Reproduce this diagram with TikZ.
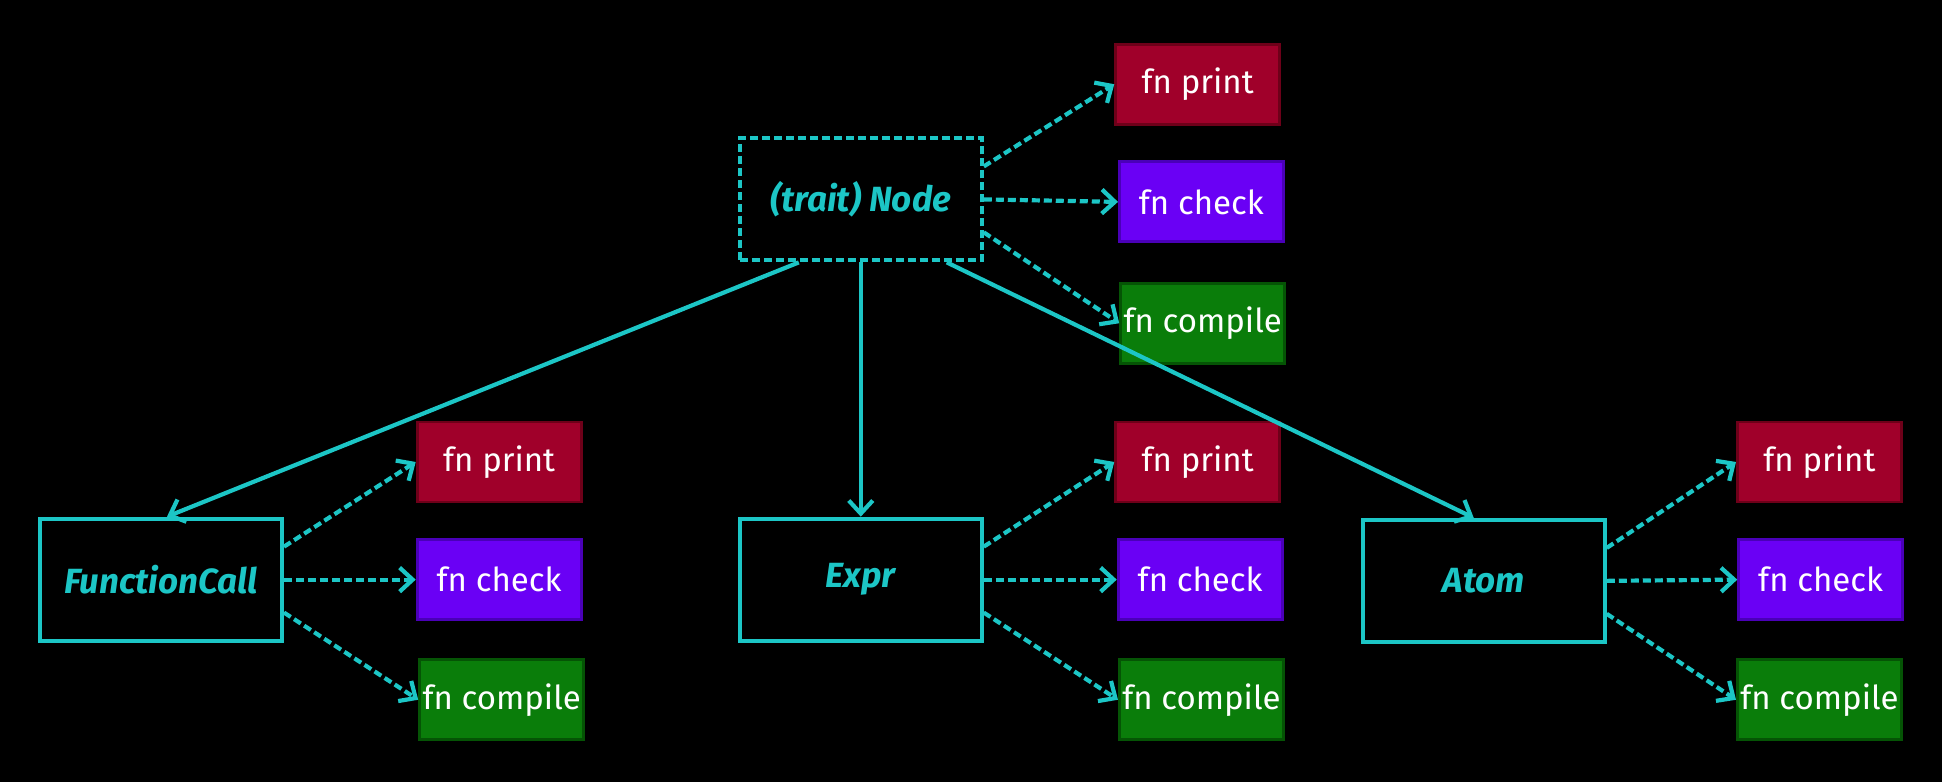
\documentclass[tikz,border=0pt]{standalone}
\usepackage{fontspec}
\setmainfont{Fira Sans}
\usetikzlibrary{arrows.meta}
\definecolor{cy}{HTML}{1CC6C6}
\definecolor{prt}{HTML}{A0002A}
\definecolor{prtb}{HTML}{6E0019}
\definecolor{chk}{HTML}{6A00F5}
\definecolor{chkb}{HTML}{4A00B8}
\definecolor{cmp}{HTML}{0A7D0A}
\definecolor{cmpb}{HTML}{055405}
\tikzset{
  fnbox/.style={draw, line width=1.4pt, minimum width=82pt, minimum height=40pt, text=white, inner sep=0pt, font=\fontsize{16.5}{18}\selectfont},
  printbox/.style={fnbox, fill=prt, draw=prtb},
  checkbox/.style={fnbox, fill=chk, draw=chkb},
  compbox/.style={fnbox, fill=cmp, draw=cmpb},
  typebox/.style={draw=cy, line width=2pt, minimum width=121pt, minimum height=61pt, inner sep=0pt, text=cy, font=\bfseries\itshape\fontsize{17.5}{20}\selectfont},
  link/.style={draw=cy, line width=2.1pt, -{Straight Barb[length=6.5pt,width=12pt,line width=2.1pt]}},
  dlink/.style={link, dash pattern=on 4pt off 2pt},
}
\begin{document}
\begin{tikzpicture}[x=0.6193pt, y=-0.6193pt]
\fill[black] (0,0) rectangle (1568,631);
\useasboundingbox (0,0) rectangle (1568,631);

% top group
\node[typebox, dash pattern=on 4pt off 2pt] (node) at (695,161) {(trait) Node};
\node[printbox] (tp) at (967,68) {fn print};
\node[checkbox] (tc) at (970,163) {fn check};
\node[compbox] (tm) at (971,261) {fn compile};

% left group
\node[typebox] (fc) at (130,468) {FunctionCall};
\node[printbox] (lp) at (403,373) {fn print};
\node[checkbox] (lc) at (403,468) {fn check};
\node[compbox] (lm) at (405,565) {fn compile};

% middle group
\node[typebox] (ex) at (695,468) {Expr};
\node[printbox] (mp) at (967,373) {fn print};
\node[checkbox] (mc) at (969,468) {fn check};
\node[compbox] (mm) at (970,565) {fn compile};

% right group
\node[typebox] (at) at (1198,469) {Atom};
\node[printbox] (rp) at (1469,373) {fn print};
\node[checkbox] (rc) at (1470,468) {fn check};
\node[compbox] (rm) at (1469,565) {fn compile};

% connectors from the trait
\draw[dlink] (node.15) -- (tp.west);
\draw[dlink] (node.east) -- (tc.west);
\draw[dlink] (node.-15) -- (tm.west);
\draw[link] ([xshift=-31pt]node.south) -- ([xshift=3pt]fc.north);
\draw[link] (node.south) -- (ex.north);
\draw[link] ([xshift=43pt]node.south) -- ([xshift=-5pt]at.north);

% connectors from the types
\foreach \t/\p/\c/\m in {fc/lp/lc/lm, ex/mp/mc/mm, at/rp/rc/rm}{
  \draw[dlink] (\t.15) -- (\p.west);
  \draw[dlink] (\t.east) -- (\c.west);
  \draw[dlink] (\t.-15) -- (\m.west);
}
\end{tikzpicture}
\end{document}
